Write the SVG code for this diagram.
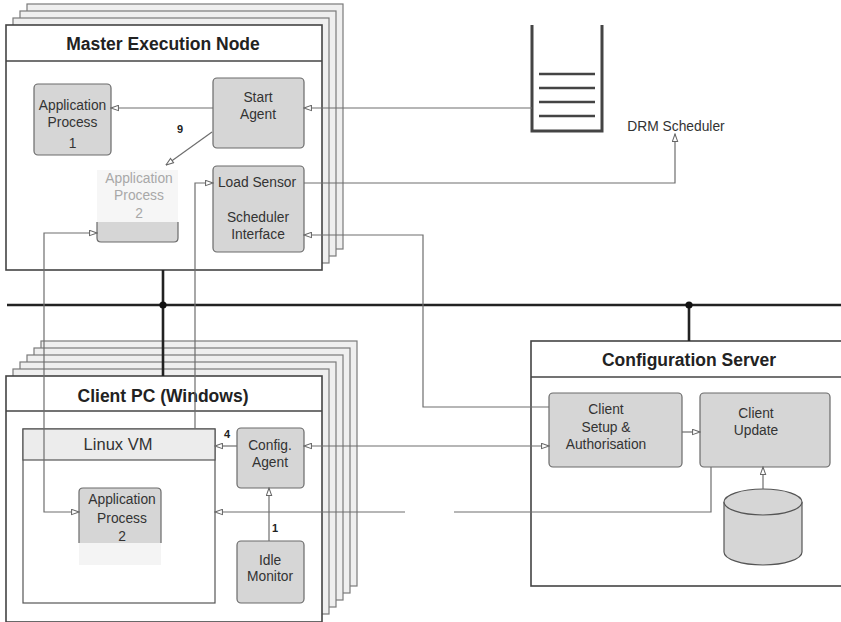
<svg xmlns="http://www.w3.org/2000/svg" width="841" height="622" viewBox="0 0 841 622">
  <defs>
    <marker id="arrow" viewBox="0 0 10 8" refX="9.5" refY="4" markerWidth="9" markerHeight="7" markerUnits="userSpaceOnUse" orient="auto-start-reverse">
      <path d="M1,1 L9.5,4 L1,7 Z" fill="#fff" stroke="#666" stroke-width="1.2"/>
    </marker>
    <style>
      .stack { fill: #efefef; stroke: #7a7a7a; stroke-width: 1.2; }
      .frame { fill: #fff; stroke: #444; stroke-width: 1.6; }
      .sep { stroke: #444; stroke-width: 1.6; fill: none; }
      .box { fill: #d6d6d6; stroke: #6a6a6a; stroke-width: 1.2; }
      .title { font-family: "Liberation Sans", Arial, sans-serif; font-weight: bold; font-size: 17.5px; fill: #222; text-anchor: middle; }
      .lbl { font-family: "Liberation Sans", Arial, sans-serif; font-size: 13.8px; fill: #333; text-anchor: middle; }
      .faded { fill: #a8a8a8; }
      .num { font-family: "Liberation Sans", Arial, sans-serif; font-weight: bold; font-size: 11px; fill: #222; text-anchor: middle; }
      .conn { fill: none; stroke: #6e6e6e; stroke-width: 1.2; }
      .bus { fill: none; stroke: #222; stroke-width: 2.6; }
    </style>
  </defs>

  <rect width="841" height="622" fill="#fff"/>

  <!-- Master execution node (stack of four) -->
  <g id="master-node">
    <rect class="stack" x="27" y="4" width="316" height="245"/>
    <rect class="stack" x="20" y="11" width="316" height="245"/>
    <rect class="stack" x="13" y="18" width="316" height="245"/>
    <rect class="frame" x="6" y="25" width="316" height="245"/>
    <line class="sep" x1="6" y1="61" x2="322" y2="61"/>
    <text class="title" x="163" y="50">Master Execution Node</text>
  </g>

  <g id="app-process-1">
    <rect class="box" x="34" y="84" width="77" height="71" rx="4"/>
    <text class="lbl" x="72.5" y="110">Application</text>
    <text class="lbl" x="72.5" y="127">Process</text>
    <text class="lbl" x="72.5" y="148">1</text>
  </g>

  <g id="start-agent">
    <rect class="box" x="213" y="78" width="91" height="70" rx="4"/>
    <text class="lbl" x="258" y="102">Start</text>
    <text class="lbl" x="258" y="119">Agent</text>
  </g>

  <g id="load-sensor">
    <rect class="box" x="213" y="166" width="91" height="86" rx="4"/>
    <text class="lbl" x="257" y="187">Load Sensor</text>
    <text class="lbl" x="258" y="222">Scheduler</text>
    <text class="lbl" x="258" y="239">Interface</text>
  </g>

  <g id="master-app-process-2">
    <rect x="97" y="170" width="81" height="52" fill="#f6f6f6"/>
    <path d="M97,222 V238 Q97,242 101,242 H174 Q178,242 178,238 V222 Z" fill="#d6d6d6"/>
    <path d="M97,222 V238 Q97,242 101,242 H174 Q178,242 178,238 V222" fill="none" stroke="#6a6a6a" stroke-width="1.2"/>
    <text class="lbl faded" x="139" y="183">Application</text>
    <text class="lbl faded" x="139" y="200">Process</text>
    <text class="lbl faded" x="139" y="218">2</text>
  </g>

  <!-- Job queue -->
  <g id="job-queue" fill="none" stroke="#444">
    <path d="M532,25 V131 H602 V25" stroke-width="3"/>
    <line x1="539" y1="74" x2="595" y2="74" stroke-width="2.6"/>
    <line x1="539" y1="88" x2="595" y2="88" stroke-width="2.6"/>
    <line x1="539" y1="102" x2="595" y2="102" stroke-width="2.6"/>
    <line x1="539" y1="116" x2="595" y2="116" stroke-width="2.6"/>
  </g>

  <g id="drm-scheduler">
    <text class="lbl" x="676" y="131">DRM Scheduler</text>
  </g>

  <!-- Client PC (stack of six) -->
  <g id="client-pc">
    <rect class="stack" x="41" y="341" width="316" height="245"/>
    <rect class="stack" x="34" y="348" width="316" height="245"/>
    <rect class="stack" x="27" y="355" width="316" height="245"/>
    <rect class="stack" x="20" y="362" width="316" height="245"/>
    <rect class="stack" x="13" y="369" width="316" height="245"/>
    <rect class="frame" x="6" y="376" width="316" height="246"/>
    <line class="sep" x1="6" y1="411" x2="322" y2="411"/>
    <text class="title" x="163" y="402">Client PC (Windows)</text>
  </g>

  <g id="linux-vm">
    <rect x="23" y="429" width="192" height="174" fill="#fff" stroke="#555" stroke-width="1.2"/>
    <rect x="23" y="429" width="192" height="31" fill="#ececec" stroke="#555" stroke-width="1.2"/>
    <text x="118" y="450" font-family="Liberation Sans, Arial, sans-serif" font-size="16.5" fill="#333" text-anchor="middle">Linux VM</text>
  </g>

  <g id="client-app-process-2">
    <rect x="79" y="543" width="82" height="22" fill="#f4f4f4"/>
    <path d="M79,543 V492 Q79,488 83,488 H157 Q161,488 161,492 V543 Z" fill="#d6d6d6"/>
    <path d="M79,543 V492 Q79,488 83,488 H157 Q161,488 161,492 V543" fill="none" stroke="#6a6a6a" stroke-width="1.2"/>
    <text class="lbl" x="122" y="504">Application</text>
    <text class="lbl" x="122" y="523">Process</text>
    <text class="lbl" x="122" y="541">2</text>
  </g>

  <g id="config-agent">
    <rect class="box" x="237" y="428" width="67" height="60" rx="4"/>
    <text class="lbl" x="270" y="450">Config.</text>
    <text class="lbl" x="270" y="467">Agent</text>
  </g>

  <g id="idle-monitor">
    <rect class="box" x="237" y="541" width="67" height="62" rx="4"/>
    <text class="lbl" x="270" y="565">Idle</text>
    <text class="lbl" x="270" y="581">Monitor</text>
  </g>

  <!-- Configuration server -->
  <g id="configuration-server">
    <rect class="frame" x="531" y="341" width="320" height="245"/>
    <line class="sep" x1="531" y1="377" x2="841" y2="377"/>
    <text class="title" x="689" y="366">Configuration Server</text>
  </g>

  <g id="client-setup">
    <rect class="box" x="549" y="393" width="133" height="74" rx="4"/>
    <text class="lbl" x="606" y="414">Client</text>
    <text class="lbl" x="606" y="432">Setup &amp;</text>
    <text class="lbl" x="606" y="449">Authorisation</text>
  </g>

  <g id="client-update">
    <rect class="box" x="700" y="393" width="130" height="74" rx="4"/>
    <text class="lbl" x="756" y="418">Client</text>
    <text class="lbl" x="756" y="435">Update</text>
  </g>

  <g id="client-database">
    <path d="M724,502 V552 A39,13 0 0 0 802,552 V502" fill="#d6d6d6" stroke="#555" stroke-width="1.2"/>
    <ellipse cx="763" cy="502" rx="39" ry="13" fill="#d6d6d6" stroke="#555" stroke-width="1.2"/>
  </g>

  <!-- Network bus -->
  <g id="network">
    <line class="bus" x1="7" y1="305" x2="841" y2="305"/>
    <line class="bus" x1="163" y1="270" x2="163" y2="376"/>
    <line class="bus" x1="689" y1="305" x2="689" y2="341"/>
    <circle cx="163" cy="305" r="3.6" fill="#111"/>
    <circle cx="689" cy="305" r="3.6" fill="#111"/>
  </g>

  <!-- Connectors -->
  <g id="connectors">
    <path class="conn" d="M532,108 H304" marker-end="url(#arrow)"/>
    <path class="conn" d="M213,108 H111" marker-end="url(#arrow)"/>
    <path class="conn" d="M212,132 L166,165" marker-end="url(#arrow)"/>
    <path class="conn" d="M304,183 H675 V134" marker-end="url(#arrow)"/>
    <path class="conn" d="M195,429 V183 H213" marker-end="url(#arrow)"/>
    <path class="conn" d="M97,233 H44 V512 H79" marker-start="url(#arrow)" marker-end="url(#arrow)"/>
    <path class="conn" d="M549,407 H423 V235 H304" marker-end="url(#arrow)"/>
    <path class="conn" d="M304,446 H549" marker-start="url(#arrow)" marker-end="url(#arrow)"/>
    <path class="conn" d="M237,446 H215" marker-end="url(#arrow)"/>
    <path class="conn" d="M269,541 V488" marker-end="url(#arrow)"/>
    <path class="conn" d="M711,467 V512 H454"/>
    <path class="conn" d="M405,512 H215" marker-end="url(#arrow)"/>
    <path class="conn" d="M682,432 H700" marker-end="url(#arrow)"/>
    <path class="conn" d="M763,489 V467" marker-end="url(#arrow)"/>
    <text class="num" x="180" y="133">9</text>
    <text class="num" x="227" y="438">4</text>
    <text class="num" x="275" y="532">1</text>
  </g>
</svg>
